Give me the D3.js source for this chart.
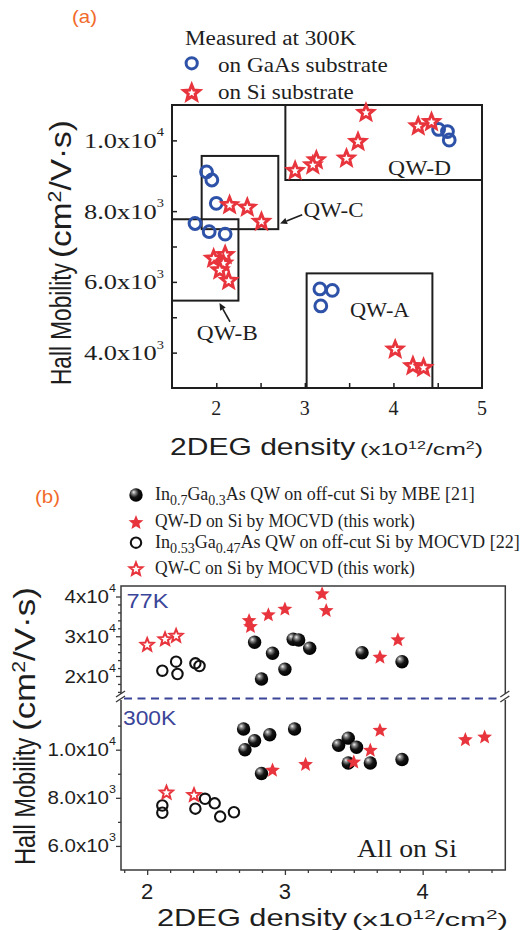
<!DOCTYPE html>
<html>
<head>
<meta charset="utf-8">
<script src="https://cdn.jsdelivr.net/npm/d3@7/dist/d3.min.js"></script>
<style>html,body{margin:0;padding:0;background:#fff;} svg{display:block;}</style>
</head>
<body>
<svg id="chart" width="525" height="930"></svg>
<script>
// ================= DATA =================
// Panel (a): Hall mobility (cm2/V.s) at 300 K vs 2DEG density (1e12 cm^-2)
const aGaAsX = [1.89, 1.95, 2.00, 1.76, 1.92, 2.10, 4.51, 4.61, 4.63, 3.17, 3.31, 3.18];
const aGaAsY = [9110, 8880, 8220, 7650, 7420, 7350, 10310, 10250, 10010, 5800, 5760, 5320];
const aSiX = [3.69, 3.60, 3.47, 3.13, 3.09, 2.89, 4.28, 4.43, 2.15, 2.35, 2.51, 1.97, 2.10, 2.08, 2.04, 2.14, 4.02, 4.22, 4.34];
const aSiY = [10780, 9960, 9490, 9440, 9300, 9140, 10400, 10520, 8170, 8100, 7700, 6660, 6760, 6520, 6330, 6030, 4090, 3620, 3570];
const aXTicks = [2, 3, 4, 5];
const aXTickLabels = ["2", "3", "4", "5"];
const aYTicks = [4000, 6000, 8000, 10000];
const aYTickMant = ["4.0x10", "6.0x10", "8.0x10", "1.0x10"];
const aYTickExp = ["3", "3", "3", "4"];
const aBoxNames = ["QW-D", "QW-C", "QW-B", "QW-A"];
const aBoxX0 = [2.78, 1.835, 1.5, 3.02];
const aBoxX1 = [5.0, 2.70, 2.25, 4.44];
const aBoxY0 = [8880, 7490, 5470, 3000];
const aBoxY1 = [11000, 9560, 7770, 6240];

// Panel (b): 77 K (upper) and 300 K (lower)
const b77MbeX = [2.78, 2.91, 2.83, 3.00, 3.06, 3.10, 3.18, 3.56, 3.85];
const b77MbeY = [28480, 25710, 19250, 21690, 29230, 29060, 26970, 25860, 23600];
const b77QwdX = [2.74, 2.75, 2.88, 3.00, 3.27, 3.30, 3.69, 3.82];
const b77QwdY = [33910, 32400, 35350, 36780, 40630, 36430, 24700, 29060];
const b77MocX = [2.11, 2.21, 2.22, 2.35, 2.38];
const b77MocY = [21330, 23600, 20500, 23190, 22520];
const b77QwcX = [2.00, 2.13, 2.21];
const b77QwcY = [27800, 29230, 30060];

const b300MbeX = [2.70, 2.71, 2.78, 2.89, 3.07, 2.83, 3.39, 3.46, 3.52, 3.46, 3.62, 3.85];
const b300MbeY = [10860, 10000, 10370, 10620, 10860, 9010, 10180, 10480, 10100, 9450, 9450, 9590];
const b300QwdX = [2.91, 3.15, 3.50, 3.62, 3.69, 4.31, 4.45];
const b300QwdY = [9140, 9380, 9480, 9970, 10800, 10410, 10520];
const b300MocX = [2.11, 2.11, 2.35, 2.42, 2.49, 2.53, 2.63];
const b300MocY = [7680, 7380, 7550, 7960, 7770, 7220, 7400];
const b300QwcX = [2.14, 2.34];
const b300QwcY = [8210, 8110];

const bXTicks = [2, 3, 4];
const bYTicksUpper = [20000, 30000, 40000];
const bYTickUpperMant = ["2x10", "3x10", "4x10"];
const bYTickUpperExp = ["4", "4", "4"];
const bYTicksLower = [6000, 8000, 10000];
const bYTickLowerMant = ["6.0x10", "8.0x10", "1.0x10"];
const bYTickLowerExp = ["3", "3", "4"];

// ================= STYLE =================
const RED = "#e8343c", BLUE = "#2e52a8", ORANGE = "#f26b2c", NAVY = "#3a4599", INK = "#1e1e1e";
const SERIF = "'Liberation Serif','Times New Roman',serif";
const SANS = "'Liberation Sans',Arial,sans-serif";

const svg = d3.select("#chart");
const defs = svg.append("defs");
const grad = defs.append("radialGradient").attr("id", "sphere").attr("cx", "40%").attr("cy", "38%").attr("r", "62%").attr("fx", "32%").attr("fy", "28%");
grad.append("stop").attr("offset", "0%").attr("stop-color", "#f4f4f4");
grad.append("stop").attr("offset", "22%").attr("stop-color", "#8a8a8a");
grad.append("stop").attr("offset", "55%").attr("stop-color", "#151515");
grad.append("stop").attr("offset", "100%").attr("stop-color", "#000");

// custom 5-point star symbol (size = outer radius squared)
const starType = {
  draw(ctx, size) {
    const R = Math.sqrt(size), r = R * 0.44;
    for (let i = 0; i < 10; i++) {
      const a = -Math.PI / 2 + i * Math.PI / 5, rr = i % 2 ? r : R;
      const x = rr * Math.cos(a), y = rr * Math.sin(a);
      if (i) ctx.lineTo(x, y); else ctx.moveTo(x, y);
    }
    ctx.closePath();
  }
};
const starPath = R => d3.symbol(starType, R * R)();

// text helper: parts = strings or [string, "sup"|"sub"]; fits to width if given
function label(g, x, y, parts, o) {
  const size = o.size;
  const t = g.append("text").attr("font-family", o.family).attr("font-size", size)
    .attr("fill", o.fill || INK).attr("text-anchor", o.anchor || "start");
  let off = 0;
  parts.forEach(p => {
    const [s, k] = Array.isArray(p) ? p : [p, ""];
    const ts = t.append("tspan").text(s);
    let target = 0, fs = size;
    if (k === "sup") { target = -(o.supShift ?? 0.42 * size); fs = o.supSize ?? 0.6 * size; }
    if (k === "sub") { target = (o.subShift ?? 0.28 * size); fs = o.subSize ?? 0.75 * size; }
    ts.attr("dy", target - off).attr("font-size", fs);
    off = target;
  });
  const w = t.node().getBBox().width;
  const sx = o.width ? o.width / w : (o.sx || 1);
  const rot = o.rotate ? ` scale(${o.pageSx || 1},1) rotate(-90)` : "";
  t.attr("transform", `translate(${x},${y})${rot} scale(${sx},1)`);
  return t;
}

// ================= PANEL (a) =================
const xA = d3.scaleLinear().domain([1.5, 5]).range([172, 482]);
const yA = d3.scaleLinear().domain([3000, 11000]).range([388, 105]);
const gA = svg.append("g");

label(gA, 72, 23, ["(a)"], { size: 18, family: SANS, fill: ORANGE, width: 25 });

// axes ticks (inward)
gA.append("g").attr("transform", "translate(172,0)")
  .call(d3.axisLeft(yA).tickValues(d3.range(4000, 10001, 1000)).tickSize(-5).tickFormat(""))
  .call(g => g.select(".domain").remove())
  .selectAll("line").attr("stroke", INK).attr("stroke-width", 1.5);
gA.append("g").attr("transform", "translate(0,388)")
  .call(d3.axisBottom(xA).tickValues([2, 2.5, 3, 3.5, 4, 4.5]).tickSize(-5).tickFormat(""))
  .call(g => g.select(".domain").remove())
  .selectAll("line").attr("stroke", INK).attr("stroke-width", 1.5);

// boxes
aBoxNames.forEach((n, i) => {
  gA.append("rect")
    .attr("x", xA(aBoxX0[i])).attr("y", yA(aBoxY1[i]))
    .attr("width", xA(aBoxX1[i]) - xA(aBoxX0[i])).attr("height", yA(aBoxY0[i]) - yA(aBoxY1[i]))
    .attr("fill", "none").attr("stroke", INK).attr("stroke-width", 2);
});
// frame
gA.append("rect").attr("x", xA(1.5)).attr("y", yA(11000)).attr("width", xA(5) - xA(1.5))
  .attr("height", yA(3000) - yA(11000)).attr("fill", "none").attr("stroke", INK).attr("stroke-width", 2);

// box labels (data coordinates)
label(gA, xA(3.94), yA(9017), ["QW-D"], { size: 20, family: SERIF, width: 63 });
label(gA, xA(2.985), yA(7822), ["QW-C"], { size: 20, family: SERIF, width: 60 });
label(gA, xA(1.78), yA(4356), ["QW-B"], { size: 20, family: SERIF, width: 61 });
label(gA, xA(3.51), yA(5014), ["QW-A"], { size: 20, family: SERIF, width: 60 });

function arrow(g, x1, y1, x2, y2) {
  const ang = Math.atan2(y2 - y1, x2 - x1), L = 7, W = 3.2;
  const bx = x2 - L * Math.cos(ang), by = y2 - L * Math.sin(ang);
  g.append("line").attr("x1", x1).attr("y1", y1).attr("x2", bx).attr("y2", by)
    .attr("stroke", INK).attr("stroke-width", 1.6);
  g.append("path").attr("d", `M${x2},${y2}L${bx - W * Math.sin(ang)},${by + W * Math.cos(ang)}L${bx + W * Math.sin(ang)},${by - W * Math.cos(ang)}Z`)
    .attr("fill", INK);
}
arrow(gA, xA(2.97), yA(7900), xA(2.72), yA(7650));
arrow(gA, xA(2.155), yA(4873), xA(2.036), yA(5400));

// points
gA.selectAll(".gaas").data(d3.zip(aGaAsX, aGaAsY)).join("circle")
  .attr("cx", d => xA(d[0])).attr("cy", d => yA(d[1])).attr("r", 5.9)
  .attr("fill", "none").attr("stroke", BLUE).attr("stroke-width", 3);
gA.selectAll(".si").data(d3.zip(aSiX, aSiY)).join("path")
  .attr("d", starPath(8)).attr("transform", d => `translate(${xA(d[0])},${yA(d[1])})`)
  .attr("fill", "#fff").attr("stroke", RED).attr("stroke-width", 2.8).attr("stroke-linejoin", "miter");

// tick labels
aXTicks.forEach((v, i) => label(gA, xA(v), 415, [aXTickLabels[i]], { size: 20, family: SERIF, anchor: "middle" }));
aYTicks.forEach((v, i) => label(gA, 164, yA(v) + 7.5, [aYTickMant[i], [aYTickExp[i], "sup"]],
  { size: 22, family: SERIF, anchor: "end", width: 80, supSize: 12, supShift: 11.5 }));

// axis titles
label(gA, 170, 455, ["2DEG density"], { size: 23, family: SANS, width: 186 });
label(gA, 360, 455, ["(x10", ["12", "sup"], "/cm", ["2", "sup"], ")"], { size: 17, family: SANS, width: 123, supSize: 11, supShift: 6 });
label(gA, 71, 385, ["Hall Mobility"], { size: 22, family: SANS, rotate: true, pageSx: 1.3, width: 122 });
label(gA, 71, 258, ["(cm", ["2", "sup"], "/V·s)"], { size: 22, family: SANS, rotate: true, pageSx: 1.3, width: 138, supSize: 14, supShift: 8 });

// legend
label(gA, 185, 45, ["Measured at 300K"], { size: 20, family: SERIF, width: 172 });
gA.append("circle").attr("cx", 191.7).attr("cy", 63.3).attr("r", 5.6).attr("fill", "none").attr("stroke", BLUE).attr("stroke-width", 3);
label(gA, 218, 71.5, ["on GaAs substrate"], { size: 20, family: SERIF, width: 170 });
gA.append("path").attr("d", starPath(8.2)).attr("transform", "translate(191.7,93)")
  .attr("fill", "#fff").attr("stroke", RED).attr("stroke-width", 3);
label(gA, 218, 99, ["on Si substrate"], { size: 20, family: SERIF, width: 136 });

// ================= PANEL (b) =================
const xB = d3.scaleLinear().domain([1.81, 4.6]).range([121, 505.3]);
const yBu = d3.scaleLinear().domain([14720, 42640]).range([697, 586]);
const yBl = d3.scaleLinear().domain([5000, 12190]).range([870, 697]);
const gB = svg.append("g");
const AX = "#3a3a3a";

label(gB, 35, 503, ["(b)"], { size: 18, family: SANS, fill: ORANGE, width: 25 });

// legend
const legY = [495, 522.7, 542.7, 569.3];
gB.append("circle").attr("cx", 136).attr("cy", legY[0]).attr("r", 6.7).attr("fill", "url(#sphere)");
gB.append("path").attr("d", starPath(7.8)).attr("transform", `translate(136,${legY[1]})`).attr("fill", RED);
gB.append("circle").attr("cx", 136).attr("cy", legY[2]).attr("r", 5.2).attr("fill", "#fff").attr("stroke", "#111").attr("stroke-width", 2.1);
gB.append("path").attr("d", starPath(6.8)).attr("transform", `translate(136,${legY[3]})`).attr("fill", "#fff").attr("stroke", RED).attr("stroke-width", 2);
const lo = { size: 18, family: SERIF, subSize: 14, subShift: 5 };
label(gB, 155, 500, ["In", ["0.7", "sub"], "Ga", ["0.3", "sub"], "As QW on off-cut Si by MBE [21]"], { ...lo, width: 320 });
label(gB, 155, 527, ["QW-D on Si by MOCVD (this work)"], { ...lo, width: 260 });
label(gB, 155, 548, ["In", ["0.53", "sub"], "Ga", ["0.47", "sub"], "As QW on off-cut Si by MOCVD [22]"], { ...lo, width: 365 });
label(gB, 155, 574, ["QW-C on Si by MOCVD (this work)"], { ...lo, width: 260 });

// frame
gB.append("rect").attr("x", 121).attr("y", 586).attr("width", 505.3 - 121).attr("height", 870 - 586)
  .attr("fill", "none").attr("stroke", AX).attr("stroke-width", 1.5);

// axes (outward ticks)
function styleAxis(g) { g.select(".domain").remove(); g.selectAll("line").attr("stroke", AX).attr("stroke-width", 1.3); }
gB.append("g").attr("transform", "translate(121,0)")
  .call(d3.axisLeft(yBu).tickValues(bYTicksUpper).tickSize(5).tickFormat("")).call(styleAxis);
gB.append("g").attr("transform", "translate(121,0)")
  .call(d3.axisLeft(yBu).tickValues(d3.range(16000, 41000, 2000).filter(v => v % 10000)).tickSize(3).tickFormat("")).call(styleAxis);
gB.append("g").attr("transform", "translate(121,0)")
  .call(d3.axisLeft(yBl).tickValues(bYTicksLower).tickSize(5).tickFormat("")).call(styleAxis);
gB.append("g").attr("transform", "translate(121,0)")
  .call(d3.axisLeft(yBl).tickValues([7000, 9000, 11000]).tickSize(3).tickFormat("")).call(styleAxis);
gB.append("g").attr("transform", "translate(0,870)")
  .call(d3.axisBottom(xB).tickValues(bXTicks).tickSize(5).tickFormat("")).call(styleAxis);
gB.append("g").attr("transform", "translate(0,870)")
  .call(d3.axisBottom(xB).tickValues(d3.range(11, 28).map(i => i / 6).filter(v => Math.abs(v - Math.round(v)) > 0.01)).tickSize(3).tickFormat("")).call(styleAxis);

// break marks and separator
[121, 505.3].forEach(x => {
  gB.append("rect").attr("x", x - 3).attr("y", 694).attr("width", 6).attr("height", 6).attr("fill", "#fff");
  gB.append("line").attr("x1", x - 5).attr("y1", 697).attr("x2", x + 4).attr("y2", 691).attr("stroke", AX).attr("stroke-width", 1.3);
  gB.append("line").attr("x1", x - 5).attr("y1", 702).attr("x2", x + 4).attr("y2", 696).attr("stroke", AX).attr("stroke-width", 1.3);
});
gB.append("line").attr("x1", 124).attr("x2", 502).attr("y1", 698.5).attr("y2", 698.5)
  .attr("stroke", NAVY).attr("stroke-width", 2).attr("stroke-dasharray", "8,5.5");

label(gB, 126.5, 608, ["77K"], { size: 21, family: SANS, fill: NAVY, width: 42 });
label(gB, 123, 725, ["300K"], { size: 20, family: SANS, fill: NAVY, width: 54 });
label(gB, 357, 857, ["All on Si"], { size: 26, family: SERIF, width: 100 });

// points
function spheres(data, y) {
  gB.append("g").selectAll("circle").data(data).join("circle")
    .attr("cx", d => xB(d[0])).attr("cy", d => y(d[1])).attr("r", 6.7).attr("fill", "url(#sphere)");
}
function openCircles(data, y) {
  gB.append("g").selectAll("circle").data(data).join("circle")
    .attr("cx", d => xB(d[0])).attr("cy", d => y(d[1])).attr("r", 5.2)
    .attr("fill", "none").attr("stroke", "#111").attr("stroke-width", 2.1);
}
function filledStars(data, y) {
  gB.append("g").selectAll("path").data(data).join("path").attr("d", starPath(7.8))
    .attr("transform", d => `translate(${xB(d[0])},${y(d[1])})`).attr("fill", RED);
}
function openStars(data, y) {
  gB.append("g").selectAll("path").data(data).join("path").attr("d", starPath(6.8))
    .attr("transform", d => `translate(${xB(d[0])},${y(d[1])})`)
    .attr("fill", "#fff").attr("stroke", RED).attr("stroke-width", 2);
}
spheres(d3.zip(b77MbeX, b77MbeY), yBu);
openCircles(d3.zip(b77MocX, b77MocY), yBu);
filledStars(d3.zip(b77QwdX, b77QwdY), yBu);
openStars(d3.zip(b77QwcX, b77QwcY), yBu);
spheres(d3.zip(b300MbeX, b300MbeY), yBl);
openCircles(d3.zip(b300MocX, b300MocY), yBl);
filledStars(d3.zip(b300QwdX, b300QwdY), yBl);
openStars(d3.zip(b300QwcX, b300QwcY), yBl);

// tick labels
bXTicks.forEach(v => label(gB, xB(v), 899, [String(v)], { size: 22, family: SANS, anchor: "middle" }));
bYTicksUpper.forEach((v, i) => label(gB, 116, yBu(v) + 6.5, [bYTickUpperMant[i], [bYTickUpperExp[i], "sup"]],
  { size: 18, family: SANS, anchor: "end", sx: 1.14, supSize: 11, supShift: 11 }));
bYTicksLower.forEach((v, i) => label(gB, 116, yBl(v) + 6.5, [bYTickLowerMant[i], [bYTickLowerExp[i], "sup"]],
  { size: 18, family: SANS, anchor: "end", sx: 1.14, supSize: 11, supShift: 11 }));

// axis titles
label(gB, 157, 926, ["2DEG density"], { size: 24, family: SANS, width: 190 });
label(gB, 352, 926, ["(x10", ["12", "sup"], "/cm", ["2", "sup"], ")"], { size: 18, family: SANS, width: 156, supSize: 12, supShift: 7 });
label(gB, 35, 865, ["Hall Mobility"], { size: 23, family: SANS, rotate: true, pageSx: 1.3, width: 128 });
label(gB, 35, 731, ["(cm", ["2", "sup"], "/V·s)"], { size: 23, family: SANS, rotate: true, pageSx: 1.3, width: 144, supSize: 14, supShift: 8 });
</script>
</body>
</html>
